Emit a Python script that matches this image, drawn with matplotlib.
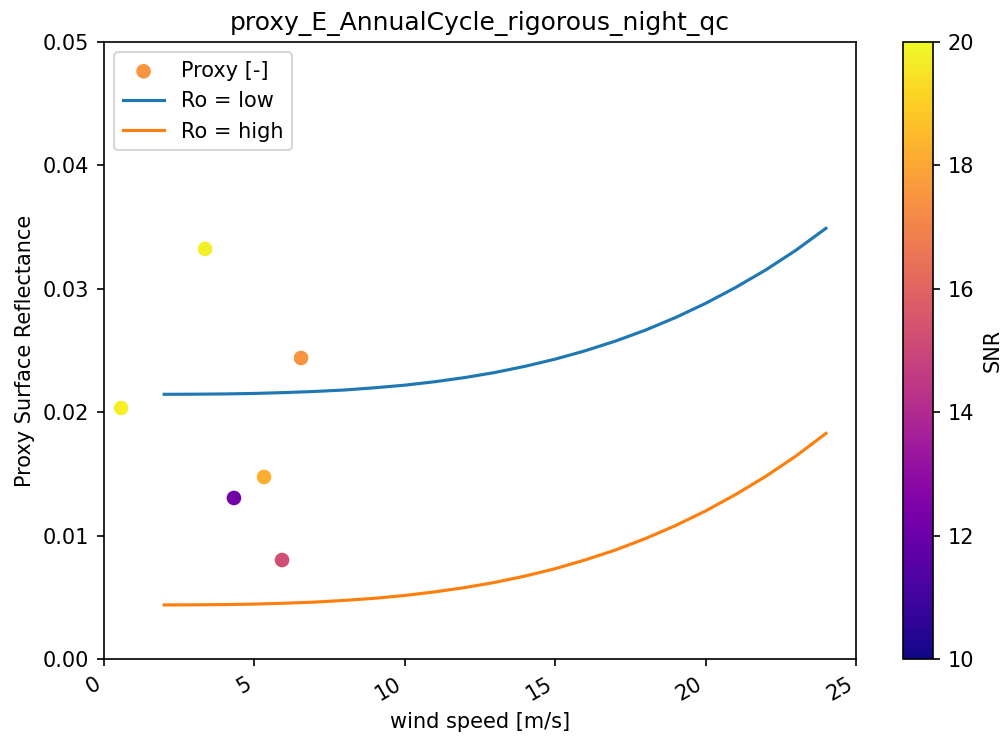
import numpy as np
import matplotlib
matplotlib.use("Agg")
import matplotlib.pyplot as plt

# proxy points (wind speed, reflectance, SNR)
wind = [6.55, 0.57, 3.36, 5.32, 4.32, 5.92]
proxy = [0.02439, 0.02034, 0.03323, 0.01475, 0.01305, 0.00802]
snr = [17.5, 19.8, 19.8, 18.2, 12.2, 15.2]

# model curves
ws = [2, 3, 4, 5, 6, 7, 8, 9, 10, 11, 12, 13, 14, 15, 16, 17, 18, 19, 20, 21, 22, 23, 24]
ro_low = [0.02145, 0.02146, 0.02148, 0.02152, 0.02159, 0.02168, 0.02180, 0.02198,
          0.02219, 0.02247, 0.02281, 0.02322, 0.02372, 0.02430, 0.02498, 0.02576,
          0.02665, 0.02767, 0.02882, 0.03011, 0.03153, 0.03312, 0.03490]
ro_high = [0.00438, 0.00439, 0.00441, 0.00445, 0.00452, 0.00461, 0.00475, 0.00492,
           0.00515, 0.00544, 0.00579, 0.00621, 0.00672, 0.00732, 0.00803, 0.00883,
           0.00976, 0.01081, 0.01200, 0.01333, 0.01480, 0.01644, 0.01828]

fig = plt.figure(figsize=(1001 / 150, 737 / 150), dpi=150)
ax = fig.add_axes([104 / 1001, 78 / 737, 752 / 1001, 617 / 737])
cax = fig.add_axes([903 / 1001, 78 / 737, 30 / 1001, 617 / 737])

sc = ax.scatter(wind, proxy, c=snr, cmap="plasma", vmin=10, vmax=20,
                label="Proxy [-]")
ax.plot(ws, ro_low, label="Ro = low")
ax.plot(ws, ro_high, label="Ro = high")

ax.set_xlim(0, 25)
ax.set_ylim(0, 0.05)
ax.set_xlabel("wind speed [m/s]")
ax.set_ylabel("Proxy Surface Reflectance")
ax.set_title("proxy_E_AnnualCycle_rigorous_night_qc")
plt.setp(ax.get_xticklabels(), rotation=30, ha="right")
ax.legend(loc="upper left")

cb = fig.colorbar(sc, cax=cax)
cb.set_label("SNR")

fig.savefig("out.png", dpi=150)
